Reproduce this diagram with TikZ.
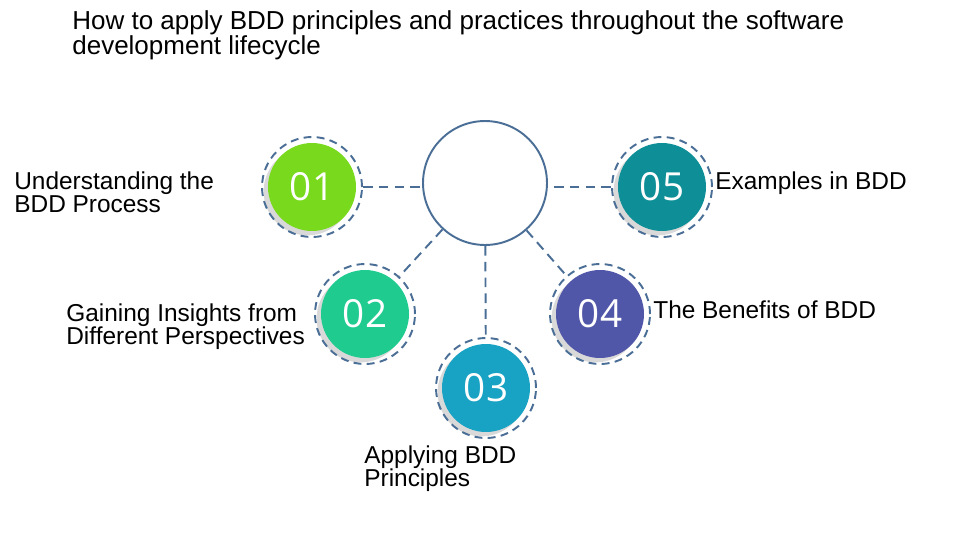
\documentclass[tikz,border=0pt]{standalone}
\usepackage{fontspec}
\setmainfont{Liberation Sans}
\newfontfamily\numfont{Open Sans}
\usetikzlibrary{shadows}
\definecolor{ringblue}{HTML}{4A6E96}
\definecolor{stepgreen}{HTML}{79D91C}
\definecolor{stepmint}{HTML}{1FCB8F}
\definecolor{stepcyan}{HTML}{18A2C3}
\definecolor{stepindigo}{HTML}{5056A8}
\definecolor{stepteal}{HTML}{0E8F97}

\begin{document}
\begin{tikzpicture}[x=0.02cm, y=-0.02cm,
    labeltext/.style={font=\fontsize{13.9}{13.2}\selectfont, align=left, inner sep=0pt, anchor=north west},
    ring/.style={circle, draw=ringblue, line width=1.1pt, dash pattern=on 4.5pt off 3pt, minimum size=2cm, inner sep=0pt},
    disc/.style={circle, fill=#1, minimum size=1.76cm, inner sep=0pt, text=white,
        font=\numfont\fontsize{22}{22}\selectfont,
        drop shadow={shadow xshift=-2.5pt, shadow yshift=-2.5pt, opacity=0.3, fill=black!50}},
    link/.style={draw=ringblue, line width=1.1pt, dash pattern=on 5.5pt off 3.5pt}]

    \useasboundingbox (0,0) rectangle (980,558);

    % Title
    \node[labeltext, font=\fontsize{14.8}{14.3}\selectfont] (title) at (72,10) {How to apply BDD principles and practices throughout the software\\development lifecycle};

    % Hub
    \node[circle, draw=ringblue, line width=1.1pt, minimum size=2.48cm, inner sep=0pt] (hub) at (485,183) {};

    % Steps: filled disc with a dashed ring
    \node[disc=stepgreen] (d1) at (312,187) {01};
    \node[ring] (r1) at (312,187) {};
    \node[disc=stepmint] (d2) at (365,314) {02};
    \node[ring] (r2) at (365,314) {};
    \node[disc=stepcyan] (d3) at (486,388) {03};
    \node[ring] (r3) at (486,388) {};
    \node[disc=stepindigo] (d4) at (600,314) {04};
    \node[ring] (r4) at (600,314) {};
    \node[disc=stepteal] (d5) at (662,187) {05};
    \node[ring] (r5) at (662,187) {};

    % Links from the hub
    \draw[link] (r1.east) -- (r1.east -| hub.west);
    \draw[link] (hub) -- (r2);
    \draw[link] (hub) -- (r3);
    \draw[link] (hub) -- (r4);
    \draw[link] (r5.west) -- (r5.west -| hub.east);

    % Labels
    \node[labeltext] (t1) at (14,171) {Understanding the\\BDD Process};
    \node[labeltext] (t2) at (66,303) {Gaining Insights from\\Different Perspectives};
    \node[labeltext] (t3) at (364,445) {Applying BDD\\Principles};
    \node[labeltext] (t4) at (653,300) {The Benefits of BDD};
    \node[labeltext] (t5) at (715,171) {Examples in BDD};

\end{tikzpicture}
\end{document}
